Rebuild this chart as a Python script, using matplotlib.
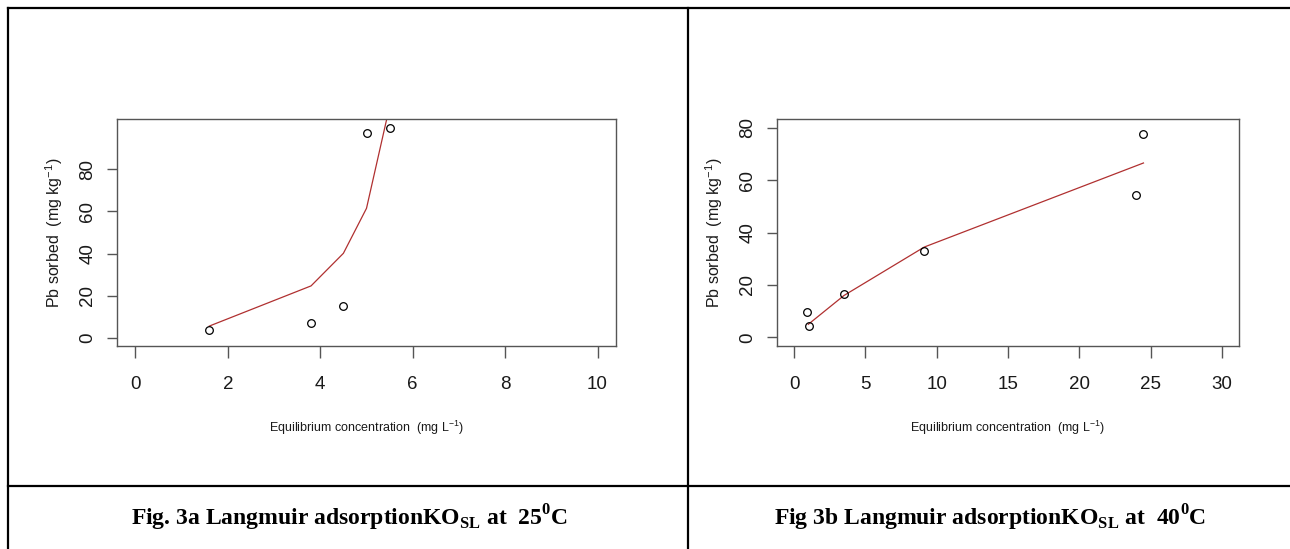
import numpy as np
import matplotlib
matplotlib.use("Agg")
import matplotlib.pyplot as plt
from matplotlib.lines import Line2D

plt.rcParams['font.family'] = ['Liberation Sans', 'DejaVu Sans']
plt.rcParams['mathtext.fontset'] = 'custom'
plt.rcParams['mathtext.sf'] = 'Liberation Sans'
plt.rcParams['mathtext.rm'] = 'Liberation Sans'
plt.rcParams['mathtext.bf'] = 'Liberation Serif:bold'

# Fig 3a, 25 C
ce_25 = [1.6, 3.8, 4.5, 5.0, 5.5]
qe_25 = [3.5, 6.9, 15.0, 97.4, 99.8]
fit_25 = [5.5, 24.6, 40.1, 61.5, 110.0]

# Fig 3b, 40 C
ce_40 = [0.875, 1.03, 3.5, 9.13, 24.0, 24.5]
qe_40 = [9.8, 4.3, 16.4, 32.9, 54.3, 77.7]
fit_x_40 = [1.0, 3.5, 9.13, 24.5]
fit_40 = [5.0, 16.0, 34.5, 66.6]

xticks_25 = [0, 2, 4, 6, 8, 10]
xticks_40 = [0, 5, 10, 15, 20, 25, 30]
yticks_25 = [0, 20, 40, 60, 80]
yticks_40 = [0, 20, 40, 60, 80]

captions = [r"Fig. 3a Langmuir adsorptionKO$_{\mathbf{SL}}$ at  25$^{\mathbf{0}}$C",
            r"Fig 3b Langmuir adsorptionKO$_{\mathbf{SL}}$ at  40$^{\mathbf{0}}$C"]

W, H = 1290, 549
fig = plt.figure(figsize=(W / 100, H / 100), dpi=100)

line_col = "#b03030"
axis_col = "#555555"


def make_panel(left_px, right_px, x, y, fx, fy, xlim, ylim, xt, yt):
    ax = fig.add_axes([left_px / W, 1 - 346 / H, (right_px - left_px) / W, 227 / H])
    ax.plot(fx, fy, color=line_col, lw=0.9)
    ax.plot(x, y, 'o', mfc='none', mec='black', ms=5.5, mew=0.9)
    ax.set_xlim(*xlim)
    ax.set_ylim(*ylim)
    ax.set_xticks(xt)
    ax.set_yticks(yt)
    ax.set_yticklabels([str(v) for v in yt], rotation=90, va='center')
    for s in ax.spines.values():
        s.set_color(axis_col)
        s.set_linewidth(1.0)
    ax.tick_params(axis='x', length=8.5, width=1.0, color=axis_col, pad=13,
                   labelsize=13.5, labelcolor='#1a1a1a')
    ax.tick_params(axis='y', length=7, width=1.0, color=axis_col, pad=8,
                   labelsize=13.5, labelcolor='#1a1a1a')
    ax.set_xlabel(r"Equilibrium concentration  (mg L$\mathsf{^{-1}}$)", fontsize=9,
                  color='#1a1a1a')
    ax.xaxis.set_label_coords(0.5, -82 / 227)
    ax.xaxis.label.set_verticalalignment('center')
    ax.set_ylabel(r"Pb sorbed  (mg kg$\mathsf{^{-1}}$)", fontsize=11.5, color='#1a1a1a')
    ax.yaxis.set_label_coords(-63 / (right_px - left_px), 0.5)
    ax.yaxis.label.set_verticalalignment('center')
    return ax


make_panel(117, 616, ce_25, qe_25, ce_25, fit_25, (-0.4, 10.4), (-4, 104),
           xticks_25, yticks_25)
make_panel(777, 1239, ce_40, qe_40, fit_x_40, fit_40, (-1.2, 31.2), (-3.3, 83.4),
           xticks_40, yticks_40)

# table frame
def fline(x0, y0, x1, y1):
    fig.add_artist(Line2D([x0 / W, x1 / W], [1 - y0 / H, 1 - y1 / H],
                          color='black', lw=1.6, transform=fig.transFigure))

fline(8, 8, W, 8)
fline(8, 8, 8, H)
fline(688, 8, 688, H)
fline(8, 486, W, 486)

fig.text(349 / W, 1 - 518 / H, captions[0], ha='center', va='center',
         family='Liberation Serif', weight='bold', fontsize=17)
fig.text(990 / W, 1 - 518 / H, captions[1], ha='center', va='center',
         family='Liberation Serif', weight='bold', fontsize=17)

fig.savefig("out.png", dpi=100)
